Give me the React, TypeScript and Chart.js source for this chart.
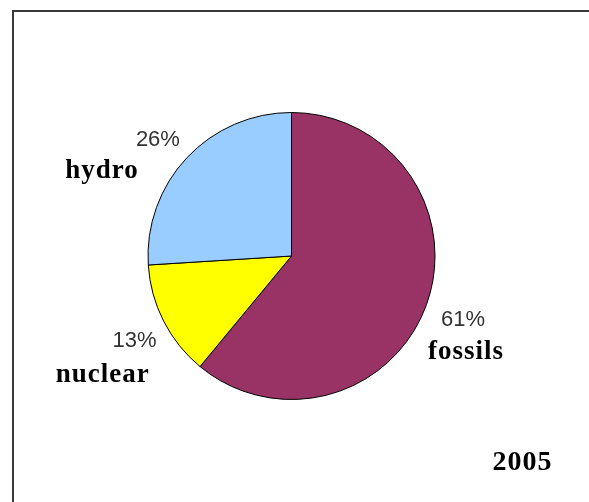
import React, { useEffect, useRef } from "react";
import { Chart, registerables } from "chart.js";

Chart.register(...registerables);

const categories = ["fossils", "nuclear", "hydro"];
const shares = [61, 13, 26];
const percentLabels = ["61%", "13%", "26%"];
const yearLabel = "2005";

const sliceColors = ["#993366", "#FFFF00", "#99CCFF"];

// offsets (px) of the percent text and the name from the slice's outer mid-point
const pctOffsets = [
  [36.5, 21.5],
  [-29, 26],
  [-29, -12],
];
const nameOffsets = [
  [39.5, 54.5],
  [-61, 61],
  [-85, 20],
];

const framePlugin = {
  id: "frame",
  beforeDraw(chart: any) {
    const ctx = chart.ctx;
    ctx.save();
    ctx.fillStyle = "#ffffff";
    ctx.fillRect(0, 0, chart.width, chart.height);
    ctx.fillStyle = "#3a3a3a";
    ctx.fillRect(12, 10, chart.width, 2);
    ctx.fillRect(12, 10, 2, chart.height);
    ctx.restore();
  },
};

const labelPlugin = {
  id: "sliceLabels",
  afterDraw(chart: any) {
    const ctx = chart.ctx;
    const meta = chart.getDatasetMeta(0);
    ctx.save();
    ctx.textAlign = "center";
    ctx.textBaseline = "alphabetic";
    meta.data.forEach((arc: any, i: number) => {
      const { x, y, startAngle, endAngle, outerRadius } = arc.getProps(
        ["x", "y", "startAngle", "endAngle", "outerRadius"],
        true
      );
      const mid = (startAngle + endAngle) / 2;
      const ax = x + Math.cos(mid) * outerRadius;
      const ay = y + Math.sin(mid) * outerRadius;
      ctx.fillStyle = "#333333";
      ctx.font = '22px "Liberation Sans", Arial, sans-serif';
      (ctx as any).letterSpacing = "0px";
      ctx.fillText(percentLabels[i], ax + pctOffsets[i][0], ay + pctOffsets[i][1]);
      ctx.fillStyle = "#000000";
      ctx.font = 'bold 27px "Liberation Serif", "Times New Roman", serif';
      (ctx as any).letterSpacing = "1px";
      ctx.fillText(categories[i], ax + nameOffsets[i][0], ay + nameOffsets[i][1]);
    });
    ctx.fillStyle = "#000000";
    ctx.font = 'bold 28px "Liberation Serif", "Times New Roman", serif';
    (ctx as any).letterSpacing = "1px";
    ctx.fillText(yearLabel, 522.5, 470);
    ctx.restore();
  },
};

export default function App() {
  const ref = useRef<HTMLCanvasElement>(null);
  useEffect(() => {
    document.body.style.margin = "0";
    if (!ref.current) return;
    const chart = new Chart(ref.current, {
      type: "pie",
      data: {
        labels: categories,
        datasets: [
          {
            data: shares,
            backgroundColor: sliceColors,
            borderColor: "#000000",
            borderWidth: 1,
          },
        ],
      },
      options: {
        responsive: false,
        animation: false,
        devicePixelRatio: 1,
        layout: { padding: { top: 112, bottom: 102, left: 100, right: 106 } },
        plugins: {
          legend: { display: false },
          tooltip: { enabled: false },
          title: { display: false },
        },
      },
      plugins: [framePlugin, labelPlugin],
    });
    return () => chart.destroy();
  }, []);
  return (
    <div style={{ width: 589, height: 502 }}>
      <canvas ref={ref} width={589} height={502} style={{ display: "block" }} />
    </div>
  );
}
